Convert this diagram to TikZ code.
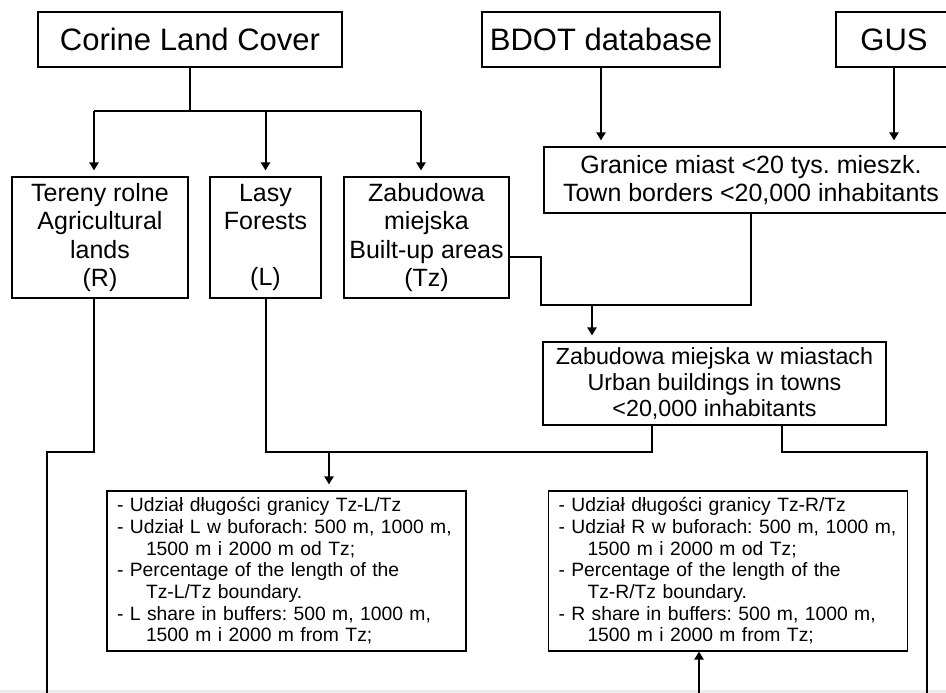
\documentclass[tikz,border=0pt]{standalone}
\usepackage{fontspec}
\setmainfont{Liberation Sans}
\usetikzlibrary{arrows.meta}
\frenchspacing

\begin{document}
\begin{tikzpicture}[x=1pt,y=-1pt,>={Triangle[length=8pt,width=9pt]},
  box/.style={draw,line width=1.1pt,inner sep=0pt,align=center},
  big/.style={box,font=\fontsize{31}{37}\selectfont,minimum height=55pt},
  mid/.style={box,font=\fontsize{25}{28.3}\selectfont,minimum height=121pt},
  res/.style={box,font=\fontsize{19.3}{21.7}\selectfont,align=left,text width=339pt,inner xsep=10pt,minimum height=160pt},
  ln/.style={line width=2pt},
  arr/.style={ln,->,shorten >=6pt}]
  \fill[white] (0,0) rectangle (946,693);
  \useasboundingbox (0,0) rectangle (946,693);
  \fill[black!7] (0,690) rectangle (946,693);
  % sources
  \node[big,minimum width=304pt] (clc) at (190,39.5) {Corine Land Cover};
  \node[big,minimum width=238pt] (bdot) at (601,39.5) {BDOT database};
  \node[big,minimum width=116pt] (gus) at (894,39.5) {GUS};
  % land cover classes
  \node[mid,minimum width=176pt] (agr) at (100,237.5) {Tereny rolne\\Agricultural\\lands\\(R)};
  \node[mid,minimum width=111pt] (las) at (265.5,237.5) {Lasy\\Forests\\\mbox{}\\(L)};
  \node[mid,minimum width=165pt] (zab) at (426.5,237.5) {Zabudowa\\miejska\\Built-up areas\\(Tz)};
  \node[box,font=\fontsize{25}{28.3}\selectfont,minimum width=414pt,minimum height=66pt] (tow) at (751,180)
    {Granice miast <20 tys. mieszk.\\Town borders <20,000 inhabitants};
  \node[box,font=\fontsize{23.3}{26}\selectfont,minimum width=343pt,minimum height=83pt] (urb) at (714.5,383.5)
    {Zabudowa miejska w miastach\\Urban buildings in towns\\<20,000 inhabitants};
  % results
  \node[res] (outL) at (286.5,571) {- Udział długości granicy Tz-L/Tz\\
    - Udział L w buforach: 500 m, 1000 m,\\\hspace*{29pt}1500 m i 2000 m od Tz;\\
    - Percentage of the length of the\\\hspace*{29pt}Tz-L/Tz boundary.\\
    - L share in buffers: 500 m, 1000 m,\\\hspace*{29pt}1500 m i 2000 m from Tz;};
  \node[res] (outR) at (728,571) {- Udział długości granicy Tz-R/Tz\\
    - Udział R w buforach: 500 m, 1000 m,\\\hspace*{29pt}1500 m i 2000 m od Tz;\\
    - Percentage of the length of the\\\hspace*{29pt}Tz-R/Tz boundary.\\
    - R share in buffers: 500 m, 1000 m,\\\hspace*{29pt}1500 m i 2000 m from Tz;};
  % junction points
  \coordinate (c1) at (94,111);
  \coordinate (c2) at (421,111);
  \coordinate (z1) at (541,257);
  \coordinate (g1) at (541,305);
  \coordinate (g2) at (592,305);
  \coordinate (m1) at (652,452);
  \coordinate (m2) at (782,452);
  \coordinate (jL) at (329,452);
  \coordinate (bl) at (47,693);
  \coordinate (br) at (927,693);
  \coordinate (bu) at (699,693);
  % connectors
  \draw[ln] (clc) -- (clc |- c1);
  \draw[ln] (c1) -- (c2);
  \draw[arr] (c1) -- (c1 |- agr.north);
  \draw[arr] (las.north |- c1) -- (las.north);
  \draw[arr] (c2) -- (c2 |- zab.north);
  \draw[arr] (bdot) -- (bdot |- tow.north);
  \draw[arr] (gus) -- (gus |- tow.north);
  \draw[ln] (zab.east |- z1) -| (g1) -| (tow.south);
  \draw[arr] (g2) -- (g2 |- urb.north);
  \draw[ln] (las.south) |- (m1) -- (m1 |- urb.south);
  \draw[arr] (jL) -- (jL |- outL.north);
  \draw[ln] (c1 |- agr.south) |- (bl |- m1) -- (bl);
  \draw[ln] (m2 |- urb.south) -- (m2) -| (br);
  \draw[ln,->] (bu) -- (bu |- outR.south);
\end{tikzpicture}
\end{document}
